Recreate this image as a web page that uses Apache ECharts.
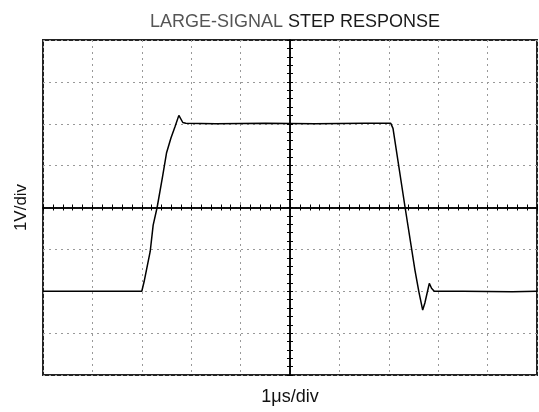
<!DOCTYPE html>
<html lang="en">
<head>
    <meta charset="UTF-8">
    <title>Large-Signal Step Response</title>
    <script src="https://cdn.jsdelivr.net/npm/echarts@6/dist/echarts.min.js"></script>
    <style>
        html, body { margin: 0; padding: 0; background: #fff; }
        #main { width: 539px; height: 412px; }
    </style>
</head>
<body>
    <div id="main"></div>
    <script>
        // time in divisions (1us/div), centre of screen = 0
        var timeDiv = [-5, -4, -3.2, -3.0, -2.955, -2.83, -2.77, -2.69, -2.58, -2.50, -2.41, -2.33, -2.25, -2.17, -2.11,
            -1.5, -0.5, 0.5, 1.5, 2.04, 2.085, 2.33, 2.53, 2.61, 2.686, 2.73, 2.82, 2.865, 2.92, 3.5, 4.5, 5];
        // volts (1V/div)
        var volts = [-2.0, -2.0, -2.0, -2.0, -1.78, -1.05, -0.42, 0, 0.74, 1.30, 1.66, 1.92, 2.20, 2.03, 2.01,
            2.0, 2.01, 2.0, 2.01, 2.01, 1.89, 0, -1.50, -2.02, -2.45, -2.28, -1.81, -1.93, -2.0, -2.0, -2.01, -2.0];

        var trace = timeDiv.map(function (t, i) { return [t, volts[i]]; });

        var dotted = { color: '#999', width: 1, type: [2, 4] };
        var tickStyle = { color: '#000', width: 1 };

        var chart = echarts.init(document.getElementById('main'));
        chart.setOption({
            animation: false,
            title: {
                text: '{a|LARGE-SIGNAL} {b|STEP RESPONSE}',
                left: 290,
                textAlign: 'center',
                top: 8,
                textStyle: {
                    rich: {
                        a: { fontFamily: 'Liberation Sans', fontSize: 18, fontWeight: 'normal', color: '#555' },
                        b: { fontFamily: 'Liberation Sans', fontSize: 18, fontWeight: 'normal', color: '#1a1a1a' }
                    }
                }
            },
            grid: {
                left: 43, right: 2, top: 40, bottom: 37,
                show: true,
                borderColor: '#222',
                borderWidth: 2
            },
            xAxis: [{
                type: 'value', min: -5, max: 5, interval: 1, position: 'bottom',
                axisLine: { onZero: true, onZeroAxisIndex: 0, lineStyle: { color: '#000', width: 1.5 } },
                axisTick: { length: 3, lineStyle: tickStyle },
                minorTick: { show: true, splitNumber: 5, length: 3, lineStyle: tickStyle },
                axisLabel: { show: false },
                splitLine: { lineStyle: dotted }
            }, {
                type: 'value', min: -5, max: 5, interval: 1, position: 'top',
                axisLine: { onZero: true, onZeroAxisIndex: 0, lineStyle: { color: '#000', width: 1.5 } },
                axisTick: { length: 3, lineStyle: tickStyle },
                minorTick: { show: true, splitNumber: 5, length: 3, lineStyle: tickStyle },
                axisLabel: { show: false },
                splitLine: { show: false }
            }, {
                type: 'value', min: -5, max: 5, position: 'bottom',
                name: '1\u03bcs/div', nameLocation: 'middle', nameGap: 13,
                nameTextStyle: { fontFamily: 'Liberation Sans', fontSize: 18, color: '#111' },
                axisLine: { show: false, onZero: false },
                axisTick: { show: false },
                axisLabel: { show: false },
                splitLine: { show: false }
            }],
            yAxis: [{
                type: 'value', min: -4, max: 4, interval: 1, position: 'left',
                axisLine: { show: true, onZero: true, onZeroAxisIndex: 0, lineStyle: { color: '#000', width: 1.5 } },
                axisTick: { show: true, length: 3, lineStyle: tickStyle },
                minorTick: { show: true, splitNumber: 5, length: 3, lineStyle: tickStyle },
                axisLabel: { show: false },
                splitLine: { lineStyle: dotted }
            }, {
                type: 'value', min: -4, max: 4, interval: 1, position: 'right',
                axisLine: { show: true, onZero: true, onZeroAxisIndex: 0, lineStyle: { color: '#000', width: 1.5 } },
                axisTick: { show: true, length: 3, lineStyle: tickStyle },
                minorTick: { show: true, splitNumber: 5, length: 3, lineStyle: tickStyle },
                axisLabel: { show: false },
                splitLine: { show: false }
            }, {
                type: 'value', min: -4, max: 4, position: 'left',
                name: '1V/div', nameLocation: 'middle', nameGap: 13,
                nameTextStyle: { fontFamily: 'Liberation Sans', fontSize: 17, color: '#111' },
                axisLine: { show: false, onZero: false },
                axisTick: { show: false },
                axisLabel: { show: false },
                splitLine: { show: false }
            }],
            series: [{
                type: 'line',
                data: trace,
                xAxisIndex: 0,
                yAxisIndex: 0,
                showSymbol: false,
                lineStyle: { color: '#000', width: 1.5 },
                z: 5
            }]
        });
    </script>
</body>
</html>
